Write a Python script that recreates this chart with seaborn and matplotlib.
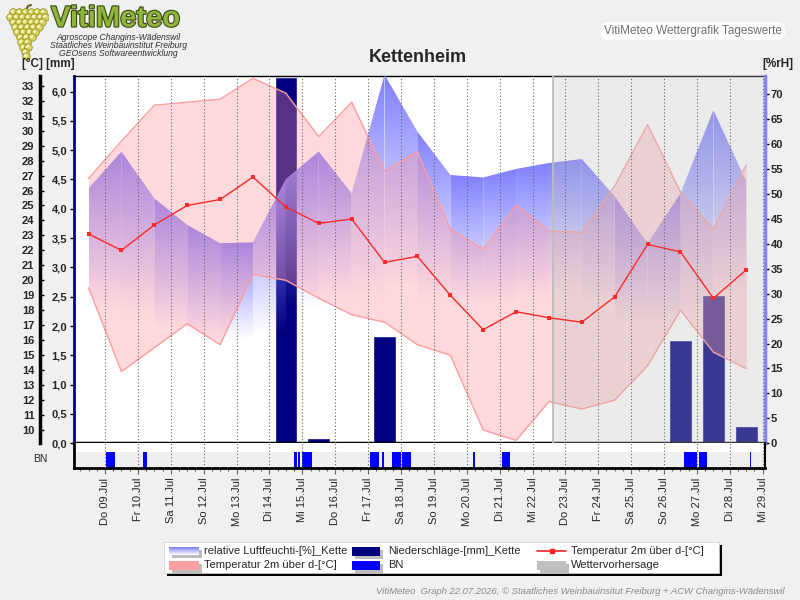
import numpy as np
import pandas as pd
import matplotlib
matplotlib.use("Agg")
import matplotlib.pyplot as plt
import seaborn as sns
from matplotlib.patches import Rectangle, Polygon
import matplotlib.patheffects as pe

# ---------------- data ----------------
day_labels = ["Do 09.Jul", "Fr 10.Jul", "Sa 11.Jul", "So 12.Jul", "Mo 13.Jul", "Di 14.Jul",
              "Mi 15.Jul", "Do 16.Jul", "Fr 17.Jul", "Sa 18.Jul", "So 19.Jul", "Mo 20.Jul",
              "Di 21.Jul", "Mi 22.Jul", "Do 23.Jul", "Fr 24.Jul", "Sa 25.Jul", "So 26.Jul",
              "Mo 27.Jul", "Di 28.Jul", "Mi 29.Jul"]
day_ticks = list(range(9, 30))
# daily values, 8. Jul ... 28. Jul (plotted at noon)
day_of_month = list(range(8, 29))
temp_mean = [23.1, 22.0, 23.7, 25.0, 25.4, 26.9, 24.9, 23.8, 24.1, 21.2, 21.6,
             19.0, 16.7, 17.9, 17.5, 17.2, 18.9, 22.4, 21.9, 18.8, 20.7]
temp_max = [26.8, 29.3, 31.7, 31.9, 32.1, 33.5, 32.5, 29.6, 31.9, 27.3, 28.6,
            23.4, 22.1, 25.0, 23.3, 23.2, 26.3, 30.4, 25.9, 23.4, 27.7]
temp_min = [19.5, 13.9, 15.5, 17.1, 15.7, 20.4, 20.0, 18.8, 17.7, 17.2, 15.7,
            15.0, 10.0, 9.3, 11.9, 11.4, 12.0, 14.3, 18.0, 15.2, 14.1]
hum_max = [51.1, 58.5, 49.1, 43.8, 40.1, 40.3, 53.0, 58.5, 50.1, 73.9, 62.5,
           53.8, 53.3, 55.0, 56.2, 57.0, 49.5, 40.1, 50.1, 66.8, 52.5]
hum_min = [27, 28, 26, 23, 21, 22, 27, 30, 29, 33, 31,
           29, 28, 29, 30, 30, 28, 24, 26, 33, 30]
precip = [0, 0, 0, 0, 0, 0, 6.25, 0.09, 0, 1.83, 0,
          0, 0, 0, 0, 0, 0, 0, 1.76, 2.53, 0.30]
bn_start = [9.02, 10.16, 14.75, 14.87, 14.99, 17.06, 17.42, 17.73, 18.03, 20.20, 21.07, 26.61, 27.06, 28.60]
bn_end = [9.30, 10.28, 14.83, 14.92, 15.30, 17.34, 17.49, 17.99, 18.31, 20.24, 21.32, 27.01, 27.31, 28.63]
forecast_start = 22.62

df = pd.DataFrame({"x": np.array(day_of_month) + 0.5, "tmean": temp_mean,
                   "tmax": temp_max, "tmin": temp_min, "hmax": hum_max,
                   "hmin": hum_min, "rain": precip})

# ---------------- style ----------------
sns.set_theme(style="white")
plt.rcParams["font.family"] = ["Liberation Sans", "DejaVu Sans"]
plt.rcParams["axes.facecolor"] = "white"

W, H = 800, 600
PT = 72 / 100  # points per pixel
def fx(px): return px / W
def fy(py): return 1 - py / H

fig = plt.figure(figsize=(8, 6), dpi=100, facecolor="#f0f0f0")

XL, XR = 8.057, 29.07
L, R, T, B = 74, 765, 75.7, 443.3
ax = fig.add_axes([fx(L), fy(B), fx(R) - fx(L), fy(T) - fy(B)])
ax.set_facecolor("white")
ax.set_xlim(XL, XR)
ax.set_ylim(0, 6.27)

ax_h = ax.twinx()
ax_h.set_ylim(0, 73.7)
ax_t = ax.twinx()
ax_t.set_ylim(9.11, 33.67)
for a in (ax, ax_h, ax_t):
    a.set_xlim(XL, XR)
    for s in a.spines.values():
        s.set_visible(False)
    a.tick_params(axis="x", bottom=False, labelbottom=False)

# precipitation bars
ax.bar(df["x"], df["rain"], width=0.69, color="#000080", zorder=2)

# humidity band with per segment vertical gradient
xs = df["x"].values
for i in range(len(xs) - 1):
    top = max(hum_max[i], hum_max[i + 1])
    bot = min(hum_min[i], hum_min[i + 1])
    n = 256
    grad = np.zeros((n, 1, 4))
    grad[:, 0, 0] = 128 / 255
    grad[:, 0, 1] = 128 / 255
    grad[:, 0, 2] = 1.0
    grad[:, 0, 3] = np.linspace(1.0, 0.0, n)
    im = ax_h.imshow(grad, extent=[xs[i], xs[i + 1], bot, top], aspect="auto",
                     origin="upper", zorder=2, interpolation="bilinear")
    poly = Polygon([(xs[i], hum_max[i]), (xs[i + 1], hum_max[i + 1]),
                    (xs[i + 1], bot), (xs[i], bot)], closed=True,
                   transform=ax_h.transData, facecolor="none", edgecolor="none")
    ax_h.add_patch(poly)
    im.set_clip_path(poly)
ax_h.set_xlim(XL, XR)
ax_h.set_ylim(0, 73.7)

# temperature band
ax_t.fill_between(df["x"], df["tmin"], df["tmax"], color=(1.0, 0.57, 0.60),
                  alpha=0.34, lw=0, zorder=2)
ax_t.plot(df["x"], df["tmax"], color="#ff9d9d", lw=1.0, zorder=3)
ax_t.plot(df["x"], df["tmin"], color="#ff9d9d", lw=1.0, zorder=3)

# forecast overlay
ax_t.axvspan(forecast_start, XR, color=(0.75, 0.75, 0.75), alpha=0.30, lw=0, zorder=4)
ax_t.axvline(forecast_start, color="#bdbdbd", lw=1.3, zorder=4)

# day grid
for d in day_ticks:
    ax_t.axvline(d, color="#666666", lw=0.8, ls=(0, (1, 2)), zorder=5)

# mean temperature line
sns.lineplot(data=df, x="x", y="tmean", ax=ax_t, color="#ff2a2a", lw=1.0,
             marker="s", markersize=3.5, markeredgewidth=0, zorder=6)
ax_t.set_xlim(XL, XR)
ax_t.set_ylim(9.11, 33.67)
ax_t.set_xlabel("")
ax_t.set_ylabel("")

# ---- axes / spines ----
ax.spines["left"].set_visible(True)
ax.spines["left"].set_color("#000080")
ax.spines["left"].set_linewidth(2)
ax.spines["bottom"].set_visible(True)
ax.spines["bottom"].set_color("black")
ax.spines["bottom"].set_linewidth(2.5)
ax.spines["top"].set_visible(True)
ax.spines["top"].set_color("black")
ax.spines["top"].set_linewidth(1)

mm_ticks = [i * 0.5 for i in range(13)]
ax.set_yticks(mm_ticks)
ax.set_yticklabels([f"{v:.1f}".replace(".", ",") for v in mm_ticks],
                   fontsize=8, fontweight="bold")
ax.tick_params(axis="y", left=True, right=False, direction="out", length=3,
               width=1, color="black", pad=2)

ax_t.yaxis.set_ticks_position("left")
ax_t.yaxis.set_label_position("left")
ax_t.spines["left"].set_visible(True)
ax_t.spines["left"].set_position(("outward", 34 * PT))
ax_t.spines["left"].set_color("black")
ax_t.spines["left"].set_linewidth(2.5)
t_ticks = list(range(10, 34))
ax_t.set_yticks(t_ticks)
ax_t.set_yticklabels([str(v) for v in t_ticks], fontsize=8, fontweight="bold")
ax_t.tick_params(axis="y", left=True, right=False, direction="in", length=3,
                 width=1, color="black", pad=4, labelleft=True, labelright=False)

ax_h.spines["right"].set_visible(True)
ax_h.spines["right"].set_color("#8080ff")
ax_h.spines["right"].set_linewidth(2.5)
h_ticks = list(range(0, 75, 5))
ax_h.set_yticks(h_ticks)
ax_h.set_yticklabels([str(v) for v in h_ticks], fontsize=8, fontweight="bold")
ax_h.tick_params(axis="y", right=True, left=False, direction="out", length=3,
                 width=1, color="black", pad=1)

# ---------------- BN strip ----------------
axb = fig.add_axes([fx(L), fy(468), fx(R) - fx(L), fy(B) - fy(468)])
axb.set_xlim(XL, XR)
axb.set_ylim(0, 1)
axb.set_facecolor("white")
gray_h = 15.7 / 24.7
axb.axhspan(0, gray_h, color="#efefef", lw=0, zorder=1)
axb.bar(bn_start, gray_h, width=np.array(bn_end) - np.array(bn_start),
        align="edge", color="#0000ff", lw=0, zorder=2)
for d in day_ticks:
    axb.axvline(d, color="#666666", lw=0.8, ls=(0, (1, 2)), zorder=3)
for k, s in axb.spines.items():
    s.set_visible(k in ("left", "bottom", "right"))
    s.set_color("black")
axb.spines["bottom"].set_linewidth(2)
axb.spines["left"].set_linewidth(2)
axb.spines["right"].set_linewidth(1.5)
axb.set_yticks([])
axb.set_xticks(day_ticks)
axb.set_xticklabels(day_labels, rotation=90, fontsize=8)
axb.set_xticks(np.arange(8.25, 29.1, 0.25), minor=True)
axb.tick_params(axis="x", which="major", bottom=True, length=4, width=0.8,
                color="#666666", pad=3, direction="out")
axb.tick_params(axis="x", which="minor", bottom=True, length=2, width=0.8,
                color="#555555", direction="out")

fig.text(fx(40), fy(459), "BN", fontsize=7.5, ha="center", va="center")

# ---------------- header ----------------
fig.text(fx(22), fy(64), "[°C] [mm]", fontsize=8.5, fontweight="bold", ha="left", va="center")
fig.text(fx(793), fy(64), "[%rH]", fontsize=8.5, fontweight="bold", ha="right", va="center")
fig.text(fx(418), fy(57), "Kettenheim", fontsize=13, fontweight="bold", ha="center", va="center")
fig.text(fx(782), fy(31), "VitiMeteo Wettergrafik Tageswerte", fontsize=8.5, color="#707070",
         ha="right", va="center",
         bbox=dict(boxstyle="round,pad=0.25,rounding_size=0.6", fc="white", ec="none"))

logo = fig.text(fx(51), fy(26.5), "VitiMeteo", fontsize=21, fontweight="bold",
                color="#90b43c", ha="left", va="baseline")
logo.set_path_effects([pe.withStroke(linewidth=1.6, foreground="#3a4a10")])
for k, line in enumerate(["Agroscope Changins-Wädenswil",
                          "Staatliches Weinbauinstitut Freiburg",
                          "GEOsens Softwareentwicklung"]):
    fig.text(fx(118), fy(37 + 8.0 * k), line, fontsize=6.2, style="italic",
             color="#303030", ha="center", va="center")

# grape cluster (decorative logo)
axg = fig.add_axes([fx(4), fy(62), fx(48) - fx(4), fy(4) - fy(62)])
axg.set_xlim(0, 44)
axg.set_ylim(0, 58)
axg.axis("off")
rows = [(50, [9, 15, 21, 27, 33, 39]), (45, [6, 12, 18, 24, 30, 36, 41]),
        (40, [9, 15, 21, 27, 33, 38]), (35, [11, 17, 23, 29, 35]),
        (30, [13, 19, 25, 31]), (25, [16, 22, 28]), (20, [17, 23]),
        (15, [19, 24]), (10, [21]), (6, [22])]
gx, gy = [], []
for yy, xx in rows:
    for xv in xx:
        gx.append(xv)
        gy.append(yy)
axg.plot([22, 24, 27], [52, 56, 57], color="#6b5a20", lw=1.5, zorder=1)
axg.scatter(gx, gy, s=30, color="#d8d35c", edgecolor="#8f8c2a", linewidth=0.5, zorder=2)
axg.scatter(np.array(gx) - 0.7, np.array(gy) + 0.7, s=5, color="#f6f2b8", lw=0, zorder=3)

# ---------------- legend ----------------
lx0, lx1, ly0, ly1 = 164, 719, 542, 573
fig.patches.append(Rectangle((fx(lx0 + 3), fy(ly1 + 3)), fx(lx1) - fx(lx0), fy(ly0) - fy(ly1),
                             transform=fig.transFigure, fc="black", ec="none", zorder=0))
fig.patches.append(Rectangle((fx(lx0), fy(ly1)), fx(lx1) - fx(lx0), fy(ly0) - fy(ly1),
                             transform=fig.transFigure, fc="white", ec="#d0d0d0", lw=0.5, zorder=1))

def swatch(x0, x1, yc, color, hgt=8):
    fig.patches.append(Rectangle((fx(x0 + 3), fy(yc + hgt / 2 + 3)), fx(x1) - fx(x0), hgt / H,
                                 transform=fig.transFigure, fc="#bdbdbd", ec="none", zorder=2))
    fig.patches.append(Rectangle((fx(x0), fy(yc + hgt / 2)), fx(x1) - fx(x0), hgt / H,
                                 transform=fig.transFigure, fc=color, ec="none", zorder=3))

r1, r2 = 551, 565
# humidity swatch with gradient
fig.patches.append(Rectangle((fx(172), fy(r1 + 4 + 3)), fx(199) - fx(169), 8 / H,
                             transform=fig.transFigure, fc="#bdbdbd", ec="none", zorder=2))
axs = fig.add_axes([fx(169), fy(r1 + 4), fx(199) - fx(169), 8 / H])
axs.set_zorder(6)
gsw = np.zeros((20, 1, 4))
gsw[:, 0, 0] = np.linspace(0.5, 1, 20)
gsw[:, 0, 1] = np.linspace(0.5, 1, 20)
gsw[:, 0, 2] = 1
gsw[:, 0, 3] = 1
axs.imshow(gsw, aspect="auto", extent=[0, 1, 0, 1])
axs.axis("off")
swatch(352, 380, r1, "#000080", 9)
swatch(169, 199, r2, "#ffa0a0", 9)
swatch(352, 380, r2, "#0000ff", 9)
swatch(537, 566, r2, "#c0c0c0", 9)
fig.lines.append(plt.Line2D([fx(537), fx(566)], [fy(r1), fy(r1)], transform=fig.transFigure,
                            color="#ff2020", lw=1.2, zorder=4))
fig.lines.append(plt.Line2D([fx(551.5)], [fy(r1)], transform=fig.transFigure, color="#ff2020",
                            marker="s", markersize=3, lw=0, zorder=5))
lfs = 8.0
fig.text(fx(204), fy(r1), "relative Luftfeuchti-[%]_Kette", fontsize=lfs, va="center", ha="left")
fig.text(fx(388), fy(r1), "Niederschläge-[mm]_Kette", fontsize=lfs, va="center", ha="left")
fig.text(fx(571), fy(r1), "Temperatur 2m über d-[°C]", fontsize=lfs, va="center", ha="left")
fig.text(fx(204), fy(r2), "Temperatur 2m über d-[°C]", fontsize=lfs, va="center", ha="left")
fig.text(fx(388), fy(r2), "BN", fontsize=lfs, va="center", ha="left")
fig.text(fx(571), fy(r2), "Wettervorhersage", fontsize=lfs, va="center", ha="left")

fig.text(fx(785), fy(591), "VitiMeteo  Graph 22.07.2026, © Staatliches Weinbauinsitut Freiburg + ACW Changins-Wädenswil",
         fontsize=6.8, style="italic", color="#8a8a8a", ha="right", va="center")

fig.savefig("out.png", dpi=100, facecolor=fig.get_facecolor())
